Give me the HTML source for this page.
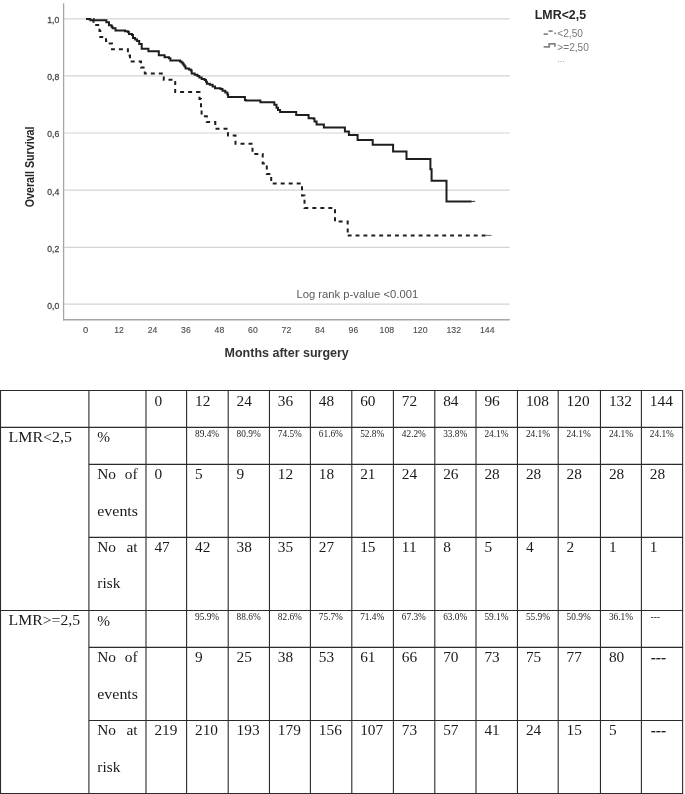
<!DOCTYPE html>
<html><head><meta charset="utf-8"><style>
html,body{margin:0;padding:0;background:#fff;}
body{width:685px;height:794px;overflow:hidden;position:relative;}
svg{position:absolute;left:0;top:0;display:block;will-change:transform;}
.sans{font-family:"Liberation Sans",sans-serif;}
.serif{font-family:"Liberation Serif",serif;}
</style></head><body>
<svg width="685" height="794" viewBox="0 0 685 794">
<rect x="0" y="0" width="685" height="794" fill="#fff"/>

<line x1="64.3" y1="18.8" x2="509.8" y2="18.8" stroke="#d4d4d4" stroke-width="1.2"/>
<line x1="64.3" y1="75.9" x2="509.8" y2="75.9" stroke="#d4d4d4" stroke-width="1.2"/>
<line x1="64.3" y1="133.0" x2="509.8" y2="133.0" stroke="#d4d4d4" stroke-width="1.2"/>
<line x1="64.3" y1="190.2" x2="509.8" y2="190.2" stroke="#d4d4d4" stroke-width="1.2"/>
<line x1="64.3" y1="247.3" x2="509.8" y2="247.3" stroke="#d4d4d4" stroke-width="1.2"/>
<line x1="64.3" y1="304.2" x2="509.8" y2="304.2" stroke="#d4d4d4" stroke-width="1.2"/>
<line x1="63.6" y1="3.3" x2="63.6" y2="320.4" stroke="#a6a6a6" stroke-width="1.3"/>
<line x1="63" y1="319.7" x2="509.8" y2="319.7" stroke="#a6a6a6" stroke-width="1.6"/>
<text class="sans" x="59.3" y="23.2" font-size="9.2" fill="#4a4a4a" stroke="#4a4a4a" stroke-width="0.3" text-anchor="end" textLength="12" lengthAdjust="spacingAndGlyphs">1,0</text>
<text class="sans" x="59.3" y="80.3" font-size="9.2" fill="#4a4a4a" stroke="#4a4a4a" stroke-width="0.3" text-anchor="end" textLength="12" lengthAdjust="spacingAndGlyphs">0,8</text>
<text class="sans" x="59.3" y="137.4" font-size="9.2" fill="#4a4a4a" stroke="#4a4a4a" stroke-width="0.3" text-anchor="end" textLength="12" lengthAdjust="spacingAndGlyphs">0,6</text>
<text class="sans" x="59.3" y="194.6" font-size="9.2" fill="#4a4a4a" stroke="#4a4a4a" stroke-width="0.3" text-anchor="end" textLength="12" lengthAdjust="spacingAndGlyphs">0,4</text>
<text class="sans" x="59.3" y="251.7" font-size="9.2" fill="#4a4a4a" stroke="#4a4a4a" stroke-width="0.3" text-anchor="end" textLength="12" lengthAdjust="spacingAndGlyphs">0,2</text>
<text class="sans" x="59.3" y="308.6" font-size="9.2" fill="#4a4a4a" stroke="#4a4a4a" stroke-width="0.3" text-anchor="end" textLength="12" lengthAdjust="spacingAndGlyphs">0,0</text>
<text class="sans" x="85.5" y="332.8" font-size="9.1" fill="#4a4a4a" stroke="#4a4a4a" stroke-width="0.12" text-anchor="middle" textLength="5.2" lengthAdjust="spacingAndGlyphs">0</text>
<text class="sans" x="119.0" y="332.8" font-size="9.1" fill="#4a4a4a" stroke="#4a4a4a" stroke-width="0.12" text-anchor="middle" textLength="9.6" lengthAdjust="spacingAndGlyphs">12</text>
<text class="sans" x="152.5" y="332.8" font-size="9.1" fill="#4a4a4a" stroke="#4a4a4a" stroke-width="0.12" text-anchor="middle" textLength="9.6" lengthAdjust="spacingAndGlyphs">24</text>
<text class="sans" x="185.9" y="332.8" font-size="9.1" fill="#4a4a4a" stroke="#4a4a4a" stroke-width="0.12" text-anchor="middle" textLength="9.6" lengthAdjust="spacingAndGlyphs">36</text>
<text class="sans" x="219.4" y="332.8" font-size="9.1" fill="#4a4a4a" stroke="#4a4a4a" stroke-width="0.12" text-anchor="middle" textLength="9.6" lengthAdjust="spacingAndGlyphs">48</text>
<text class="sans" x="252.9" y="332.8" font-size="9.1" fill="#4a4a4a" stroke="#4a4a4a" stroke-width="0.12" text-anchor="middle" textLength="9.6" lengthAdjust="spacingAndGlyphs">60</text>
<text class="sans" x="286.4" y="332.8" font-size="9.1" fill="#4a4a4a" stroke="#4a4a4a" stroke-width="0.12" text-anchor="middle" textLength="9.6" lengthAdjust="spacingAndGlyphs">72</text>
<text class="sans" x="319.9" y="332.8" font-size="9.1" fill="#4a4a4a" stroke="#4a4a4a" stroke-width="0.12" text-anchor="middle" textLength="9.6" lengthAdjust="spacingAndGlyphs">84</text>
<text class="sans" x="353.4" y="332.8" font-size="9.1" fill="#4a4a4a" stroke="#4a4a4a" stroke-width="0.12" text-anchor="middle" textLength="9.6" lengthAdjust="spacingAndGlyphs">96</text>
<text class="sans" x="386.9" y="332.8" font-size="9.1" fill="#4a4a4a" stroke="#4a4a4a" stroke-width="0.12" text-anchor="middle" textLength="14.6" lengthAdjust="spacingAndGlyphs">108</text>
<text class="sans" x="420.3" y="332.8" font-size="9.1" fill="#4a4a4a" stroke="#4a4a4a" stroke-width="0.12" text-anchor="middle" textLength="14.6" lengthAdjust="spacingAndGlyphs">120</text>
<text class="sans" x="453.8" y="332.8" font-size="9.1" fill="#4a4a4a" stroke="#4a4a4a" stroke-width="0.12" text-anchor="middle" textLength="14.6" lengthAdjust="spacingAndGlyphs">132</text>
<text class="sans" x="487.3" y="332.8" font-size="9.1" fill="#4a4a4a" stroke="#4a4a4a" stroke-width="0.12" text-anchor="middle" textLength="14.6" lengthAdjust="spacingAndGlyphs">144</text>
<text class="sans" font-weight="bold" font-size="12.7" fill="#262626" transform="translate(34.1,207.3) rotate(-90)" textLength="80.8" lengthAdjust="spacingAndGlyphs">Overall Survival</text>
<text class="sans" font-weight="bold" font-size="13.2" fill="#333" x="224.6" y="356.9" textLength="124.2" lengthAdjust="spacingAndGlyphs">Months after surgery</text>
<text class="sans" font-size="11.5" fill="#5a5a5a" x="296.4" y="298" textLength="121.8" lengthAdjust="spacingAndGlyphs">Log rank p-value &lt;0.001</text>
<text class="sans" font-weight="bold" font-size="12.6" fill="#262626" x="534.8" y="18.9" textLength="51.3" lengthAdjust="spacingAndGlyphs">LMR&lt;2,5</text>
<text class="sans" font-size="10.2" fill="#777" x="557.3" y="37.3" textLength="25.6" lengthAdjust="spacingAndGlyphs">&lt;2,50</text>
<text class="sans" font-size="10.2" fill="#777" x="557.3" y="50.6" textLength="31.6" lengthAdjust="spacingAndGlyphs">&gt;=2,50</text>
<text class="sans" font-size="9" fill="#999" x="557.3" y="61.8">...</text>
<path d="M543.6 34.1 H547.9 M548.5 31.1 H552.7 M554.3 33.4 H555.9" stroke="#8a8a8a" stroke-width="1.9" fill="none"/>
<path d="M543.6 46.9 H549.2 V43.9 H554.9 V46.8" stroke="#858585" stroke-width="1.8" fill="none"/>
<path d="M86 19.1 H89.5 V19.3 H90.5 V20.3 H104.6 H106.4 V22.2 H109 V25.2 H111.6 V26.8 H112.6 V28.3 H115.5 V30.5 H124 H125 V31.3 H127.9 V31.9 H128.9 V33.9 H132 V34.9 H133 V38 H135.1 V39.5 H137.1 V41.1 H139.2 V44.1 H141.7 V48.7 H146.3 H148.4 V51.3 H157.3 H158.8 V55.3 H164.6 V57.2 H169 V58.2 H170.4 V60.4 H178.5 H180 V61.5 H181.5 V62.5 H182.7 V63.8 H183.7 V65.2 H184.6 V66.6 H185.6 V68.5 H188.9 V69.5 H190.8 V70.5 H191.7 V73.6 H194.6 V74.7 H197.4 V76.1 H199.3 V77.6 H201.7 V79 H204.6 V79.9 H206 V81.8 H206.9 V83.7 H209.8 V84.7 H212.6 V86.6 H215 V88.3 H220.5 V88.9 H222.5 V90.8 H225.3 V92.6 H227.4 V94.6 H228.1 V96.9 H242 H244.9 V99.9 H245.8 V100.4 H259.7 H260.4 V102.3 H272.1 H274.3 V104.8 H276.5 V107.7 H278 V109.9 H280.1 V112.1 H295.5 H296.2 V115 H307.9 H308.6 V118.2 H313.7 V118.7 H314.5 V121.6 H316.6 V124.5 H323.2 H323.9 V127.6 H344.5 H344.9 V131.4 H348.9 V135.1 H357.6 V139.9 H372.7 V144.7 H393.1 V151.6 H406.5 V158.9 H430.4 V169.3 H431.6 V180.7 H446.5 V201.4 H471.5" stroke="#1e1e1e" stroke-width="2" fill="none" stroke-linejoin="miter"/>
<line x1="471" y1="201.4" x2="475.2" y2="201.4" stroke="#333" stroke-width="1"/>
<path d="M86 19.1 H93.5 V25 H99.5 V31 H100.3 V37 H106 V41 H108.5 V43.5 H112 V49.3 H127.9 V55.6 H130 V61.5 H141 V67.6 H144.8 V73.4 H163.8 V79.7 H175.2 V92.1 H199.5 V99 H201 V109 H201.6 V116.3 H206.8 V122.1 H215.3 V128.7 H226.5 V131 H228 V135.5 H235.5 V143.7 H252.5 V153.9 H262.7 V163.4 H266.8 V173.9 H271.2 V183.5 H302 V195.5 H304.5 V207.9 H335 V221.6 H347.7 V235.4" stroke="#1e1e1e" stroke-width="2" fill="none" stroke-dasharray="4 4" stroke-dashoffset="0.9"/>
<path d="M347.7 235.4 H485.5" stroke="#1e1e1e" stroke-width="2" fill="none" stroke-dasharray="3.9 3.98"/>
<line x1="485" y1="235.4" x2="491.5" y2="235.4" stroke="#666" stroke-width="1"/>
<line x1="0" y1="390.5" x2="683.1" y2="390.5" stroke="#2b2b2b" stroke-width="1.1"/>
<line x1="0" y1="427.4" x2="683.1" y2="427.4" stroke="#2b2b2b" stroke-width="1.1"/>
<line x1="0" y1="610.5" x2="683.1" y2="610.5" stroke="#2b2b2b" stroke-width="1.1"/>
<line x1="88.9" y1="464.4" x2="683.1" y2="464.4" stroke="#2b2b2b" stroke-width="1.1"/>
<line x1="88.9" y1="537.4" x2="683.1" y2="537.4" stroke="#2b2b2b" stroke-width="1.1"/>
<line x1="88.9" y1="647.4" x2="683.1" y2="647.4" stroke="#2b2b2b" stroke-width="1.1"/>
<line x1="88.9" y1="720.5" x2="683.1" y2="720.5" stroke="#2b2b2b" stroke-width="1.1"/>
<line x1="0" y1="793.5" x2="683.1" y2="793.5" stroke="#2b2b2b" stroke-width="1.1"/>
<line x1="0.5" y1="390.5" x2="0.5" y2="794.0" stroke="#2b2b2b" stroke-width="1.1"/>
<line x1="88.9" y1="390.5" x2="88.9" y2="794.0" stroke="#2b2b2b" stroke-width="1.1"/>
<line x1="146.0" y1="390.5" x2="146.0" y2="794.0" stroke="#2b2b2b" stroke-width="1.1"/>
<line x1="186.6" y1="390.5" x2="186.6" y2="794.0" stroke="#2b2b2b" stroke-width="1.1"/>
<line x1="228.2" y1="390.5" x2="228.2" y2="794.0" stroke="#2b2b2b" stroke-width="1.1"/>
<line x1="269.45" y1="390.5" x2="269.45" y2="794.0" stroke="#2b2b2b" stroke-width="1.1"/>
<line x1="310.4" y1="390.5" x2="310.4" y2="794.0" stroke="#2b2b2b" stroke-width="1.1"/>
<line x1="351.8" y1="390.5" x2="351.8" y2="794.0" stroke="#2b2b2b" stroke-width="1.1"/>
<line x1="393.4" y1="390.5" x2="393.4" y2="794.0" stroke="#2b2b2b" stroke-width="1.1"/>
<line x1="434.8" y1="390.5" x2="434.8" y2="794.0" stroke="#2b2b2b" stroke-width="1.1"/>
<line x1="476.0" y1="390.5" x2="476.0" y2="794.0" stroke="#2b2b2b" stroke-width="1.1"/>
<line x1="517.45" y1="390.5" x2="517.45" y2="794.0" stroke="#2b2b2b" stroke-width="1.1"/>
<line x1="558.2" y1="390.5" x2="558.2" y2="794.0" stroke="#2b2b2b" stroke-width="1.1"/>
<line x1="600.45" y1="390.5" x2="600.45" y2="794.0" stroke="#2b2b2b" stroke-width="1.1"/>
<line x1="641.4" y1="390.5" x2="641.4" y2="794.0" stroke="#2b2b2b" stroke-width="1.1"/>
<line x1="682.6" y1="390.5" x2="682.6" y2="794.0" stroke="#2b2b2b" stroke-width="1.1"/>
<text class="serif" x="154.4" y="405.5" font-size="15.33" fill="#1a1a1a">0</text>
<text class="serif" x="195.0" y="405.5" font-size="15.33" fill="#1a1a1a">12</text>
<text class="serif" x="236.6" y="405.5" font-size="15.33" fill="#1a1a1a">24</text>
<text class="serif" x="277.8" y="405.5" font-size="15.33" fill="#1a1a1a">36</text>
<text class="serif" x="318.8" y="405.5" font-size="15.33" fill="#1a1a1a">48</text>
<text class="serif" x="360.2" y="405.5" font-size="15.33" fill="#1a1a1a">60</text>
<text class="serif" x="401.8" y="405.5" font-size="15.33" fill="#1a1a1a">72</text>
<text class="serif" x="443.2" y="405.5" font-size="15.33" fill="#1a1a1a">84</text>
<text class="serif" x="484.4" y="405.5" font-size="15.33" fill="#1a1a1a">96</text>
<text class="serif" x="525.9" y="405.5" font-size="15.33" fill="#1a1a1a">108</text>
<text class="serif" x="566.6" y="405.5" font-size="15.33" fill="#1a1a1a">120</text>
<text class="serif" x="608.9" y="405.5" font-size="15.33" fill="#1a1a1a">132</text>
<text class="serif" x="649.8" y="405.5" font-size="15.33" fill="#1a1a1a">144</text>
<text class="serif" x="8.6" y="442.2" font-size="15.33" fill="#1a1a1a" textLength="63.4" lengthAdjust="spacingAndGlyphs">LMR&lt;2,5</text>
<text class="serif" x="97.3" y="442.4" font-size="15.33" fill="#1a1a1a">%</text>
<text class="serif" x="97.3" y="479.2" font-size="15.33" fill="#1a1a1a">No</text>
<text class="serif" x="137.6" y="479.2" font-size="15.33" fill="#1a1a1a" text-anchor="end">of</text>
<text class="serif" x="97.3" y="515.7" font-size="15.33" fill="#1a1a1a" textLength="40.7" lengthAdjust="spacingAndGlyphs">events</text>
<text class="serif" x="97.3" y="552.1" font-size="15.33" fill="#1a1a1a">No</text>
<text class="serif" x="137.6" y="552.1" font-size="15.33" fill="#1a1a1a" text-anchor="end">at</text>
<text class="serif" x="97.3" y="588.4" font-size="15.33" fill="#1a1a1a">risk</text>
<text class="serif" x="195.0" y="436.6" font-size="9.33" fill="#1a1a1a">89.4%</text>
<text class="serif" x="236.6" y="436.6" font-size="9.33" fill="#1a1a1a">80.9%</text>
<text class="serif" x="277.8" y="436.6" font-size="9.33" fill="#1a1a1a">74.5%</text>
<text class="serif" x="318.8" y="436.6" font-size="9.33" fill="#1a1a1a">61.6%</text>
<text class="serif" x="360.2" y="436.6" font-size="9.33" fill="#1a1a1a">52.8%</text>
<text class="serif" x="401.8" y="436.6" font-size="9.33" fill="#1a1a1a">42.2%</text>
<text class="serif" x="443.2" y="436.6" font-size="9.33" fill="#1a1a1a">33.8%</text>
<text class="serif" x="484.4" y="436.6" font-size="9.33" fill="#1a1a1a">24.1%</text>
<text class="serif" x="525.9" y="436.6" font-size="9.33" fill="#1a1a1a">24.1%</text>
<text class="serif" x="566.6" y="436.6" font-size="9.33" fill="#1a1a1a">24.1%</text>
<text class="serif" x="608.9" y="436.6" font-size="9.33" fill="#1a1a1a">24.1%</text>
<text class="serif" x="649.8" y="436.6" font-size="9.33" fill="#1a1a1a">24.1%</text>
<text class="serif" x="154.4" y="479.2" font-size="15.33" fill="#1a1a1a">0</text>
<text class="serif" x="195.0" y="479.2" font-size="15.33" fill="#1a1a1a">5</text>
<text class="serif" x="236.6" y="479.2" font-size="15.33" fill="#1a1a1a">9</text>
<text class="serif" x="277.8" y="479.2" font-size="15.33" fill="#1a1a1a">12</text>
<text class="serif" x="318.8" y="479.2" font-size="15.33" fill="#1a1a1a">18</text>
<text class="serif" x="360.2" y="479.2" font-size="15.33" fill="#1a1a1a">21</text>
<text class="serif" x="401.8" y="479.2" font-size="15.33" fill="#1a1a1a">24</text>
<text class="serif" x="443.2" y="479.2" font-size="15.33" fill="#1a1a1a">26</text>
<text class="serif" x="484.4" y="479.2" font-size="15.33" fill="#1a1a1a">28</text>
<text class="serif" x="525.9" y="479.2" font-size="15.33" fill="#1a1a1a">28</text>
<text class="serif" x="566.6" y="479.2" font-size="15.33" fill="#1a1a1a">28</text>
<text class="serif" x="608.9" y="479.2" font-size="15.33" fill="#1a1a1a">28</text>
<text class="serif" x="649.8" y="479.2" font-size="15.33" fill="#1a1a1a">28</text>
<text class="serif" x="154.4" y="552.1" font-size="15.33" fill="#1a1a1a">47</text>
<text class="serif" x="195.0" y="552.1" font-size="15.33" fill="#1a1a1a">42</text>
<text class="serif" x="236.6" y="552.1" font-size="15.33" fill="#1a1a1a">38</text>
<text class="serif" x="277.8" y="552.1" font-size="15.33" fill="#1a1a1a">35</text>
<text class="serif" x="318.8" y="552.1" font-size="15.33" fill="#1a1a1a">27</text>
<text class="serif" x="360.2" y="552.1" font-size="15.33" fill="#1a1a1a">15</text>
<text class="serif" x="401.8" y="552.1" font-size="15.33" fill="#1a1a1a">11</text>
<text class="serif" x="443.2" y="552.1" font-size="15.33" fill="#1a1a1a">8</text>
<text class="serif" x="484.4" y="552.1" font-size="15.33" fill="#1a1a1a">5</text>
<text class="serif" x="525.9" y="552.1" font-size="15.33" fill="#1a1a1a">4</text>
<text class="serif" x="566.6" y="552.1" font-size="15.33" fill="#1a1a1a">2</text>
<text class="serif" x="608.9" y="552.1" font-size="15.33" fill="#1a1a1a">1</text>
<text class="serif" x="649.8" y="552.1" font-size="15.33" fill="#1a1a1a">1</text>
<text class="serif" x="8.6" y="625.3" font-size="15.33" fill="#1a1a1a" textLength="71.6" lengthAdjust="spacingAndGlyphs">LMR&gt;=2,5</text>
<text class="serif" x="97.3" y="625.5" font-size="15.33" fill="#1a1a1a">%</text>
<text class="serif" x="97.3" y="662.2" font-size="15.33" fill="#1a1a1a">No</text>
<text class="serif" x="137.6" y="662.2" font-size="15.33" fill="#1a1a1a" text-anchor="end">of</text>
<text class="serif" x="97.3" y="698.7" font-size="15.33" fill="#1a1a1a" textLength="40.7" lengthAdjust="spacingAndGlyphs">events</text>
<text class="serif" x="97.3" y="735.2" font-size="15.33" fill="#1a1a1a">No</text>
<text class="serif" x="137.6" y="735.2" font-size="15.33" fill="#1a1a1a" text-anchor="end">at</text>
<text class="serif" x="97.3" y="771.5" font-size="15.33" fill="#1a1a1a">risk</text>
<text class="serif" x="195.0" y="619.7" font-size="9.33" fill="#1a1a1a">95.9%</text>
<text class="serif" x="236.6" y="619.7" font-size="9.33" fill="#1a1a1a">88.6%</text>
<text class="serif" x="277.8" y="619.7" font-size="9.33" fill="#1a1a1a">82.6%</text>
<text class="serif" x="318.8" y="619.7" font-size="9.33" fill="#1a1a1a">75.7%</text>
<text class="serif" x="360.2" y="619.7" font-size="9.33" fill="#1a1a1a">71.4%</text>
<text class="serif" x="401.8" y="619.7" font-size="9.33" fill="#1a1a1a">67.3%</text>
<text class="serif" x="443.2" y="619.7" font-size="9.33" fill="#1a1a1a">63.0%</text>
<text class="serif" x="484.4" y="619.7" font-size="9.33" fill="#1a1a1a">59.1%</text>
<text class="serif" x="525.9" y="619.7" font-size="9.33" fill="#1a1a1a">55.9%</text>
<text class="serif" x="566.6" y="619.7" font-size="9.33" fill="#1a1a1a">50.9%</text>
<text class="serif" x="608.9" y="619.7" font-size="9.33" fill="#1a1a1a">36.1%</text>
<text class="serif" x="649.8" y="619.7" font-size="9.33" fill="#1a1a1a" letter-spacing="0.2" dx="0.6">---</text>
<text class="serif" x="195.0" y="662.2" font-size="15.33" fill="#1a1a1a">9</text>
<text class="serif" x="236.6" y="662.2" font-size="15.33" fill="#1a1a1a">25</text>
<text class="serif" x="277.8" y="662.2" font-size="15.33" fill="#1a1a1a">38</text>
<text class="serif" x="318.8" y="662.2" font-size="15.33" fill="#1a1a1a">53</text>
<text class="serif" x="360.2" y="662.2" font-size="15.33" fill="#1a1a1a">61</text>
<text class="serif" x="401.8" y="662.2" font-size="15.33" fill="#1a1a1a">66</text>
<text class="serif" x="443.2" y="662.2" font-size="15.33" fill="#1a1a1a">70</text>
<text class="serif" x="484.4" y="662.2" font-size="15.33" fill="#1a1a1a">73</text>
<text class="serif" x="525.9" y="662.2" font-size="15.33" fill="#1a1a1a">75</text>
<text class="serif" x="566.6" y="662.2" font-size="15.33" fill="#1a1a1a">77</text>
<text class="serif" x="608.9" y="662.2" font-size="15.33" fill="#1a1a1a">80</text>
<text class="serif" x="649.8" y="662.2" font-size="15.33" fill="#1a1a1a" stroke="#1a1a1a" stroke-width="0.15" dx="0.9">---</text>
<text class="serif" x="154.4" y="735.2" font-size="15.33" fill="#1a1a1a">219</text>
<text class="serif" x="195.0" y="735.2" font-size="15.33" fill="#1a1a1a">210</text>
<text class="serif" x="236.6" y="735.2" font-size="15.33" fill="#1a1a1a">193</text>
<text class="serif" x="277.8" y="735.2" font-size="15.33" fill="#1a1a1a">179</text>
<text class="serif" x="318.8" y="735.2" font-size="15.33" fill="#1a1a1a">156</text>
<text class="serif" x="360.2" y="735.2" font-size="15.33" fill="#1a1a1a">107</text>
<text class="serif" x="401.8" y="735.2" font-size="15.33" fill="#1a1a1a">73</text>
<text class="serif" x="443.2" y="735.2" font-size="15.33" fill="#1a1a1a">57</text>
<text class="serif" x="484.4" y="735.2" font-size="15.33" fill="#1a1a1a">41</text>
<text class="serif" x="525.9" y="735.2" font-size="15.33" fill="#1a1a1a">24</text>
<text class="serif" x="566.6" y="735.2" font-size="15.33" fill="#1a1a1a">15</text>
<text class="serif" x="608.9" y="735.2" font-size="15.33" fill="#1a1a1a">5</text>
<text class="serif" x="649.8" y="735.2" font-size="15.33" fill="#1a1a1a" stroke="#1a1a1a" stroke-width="0.15" dx="0.9">---</text>
</svg></body></html>
